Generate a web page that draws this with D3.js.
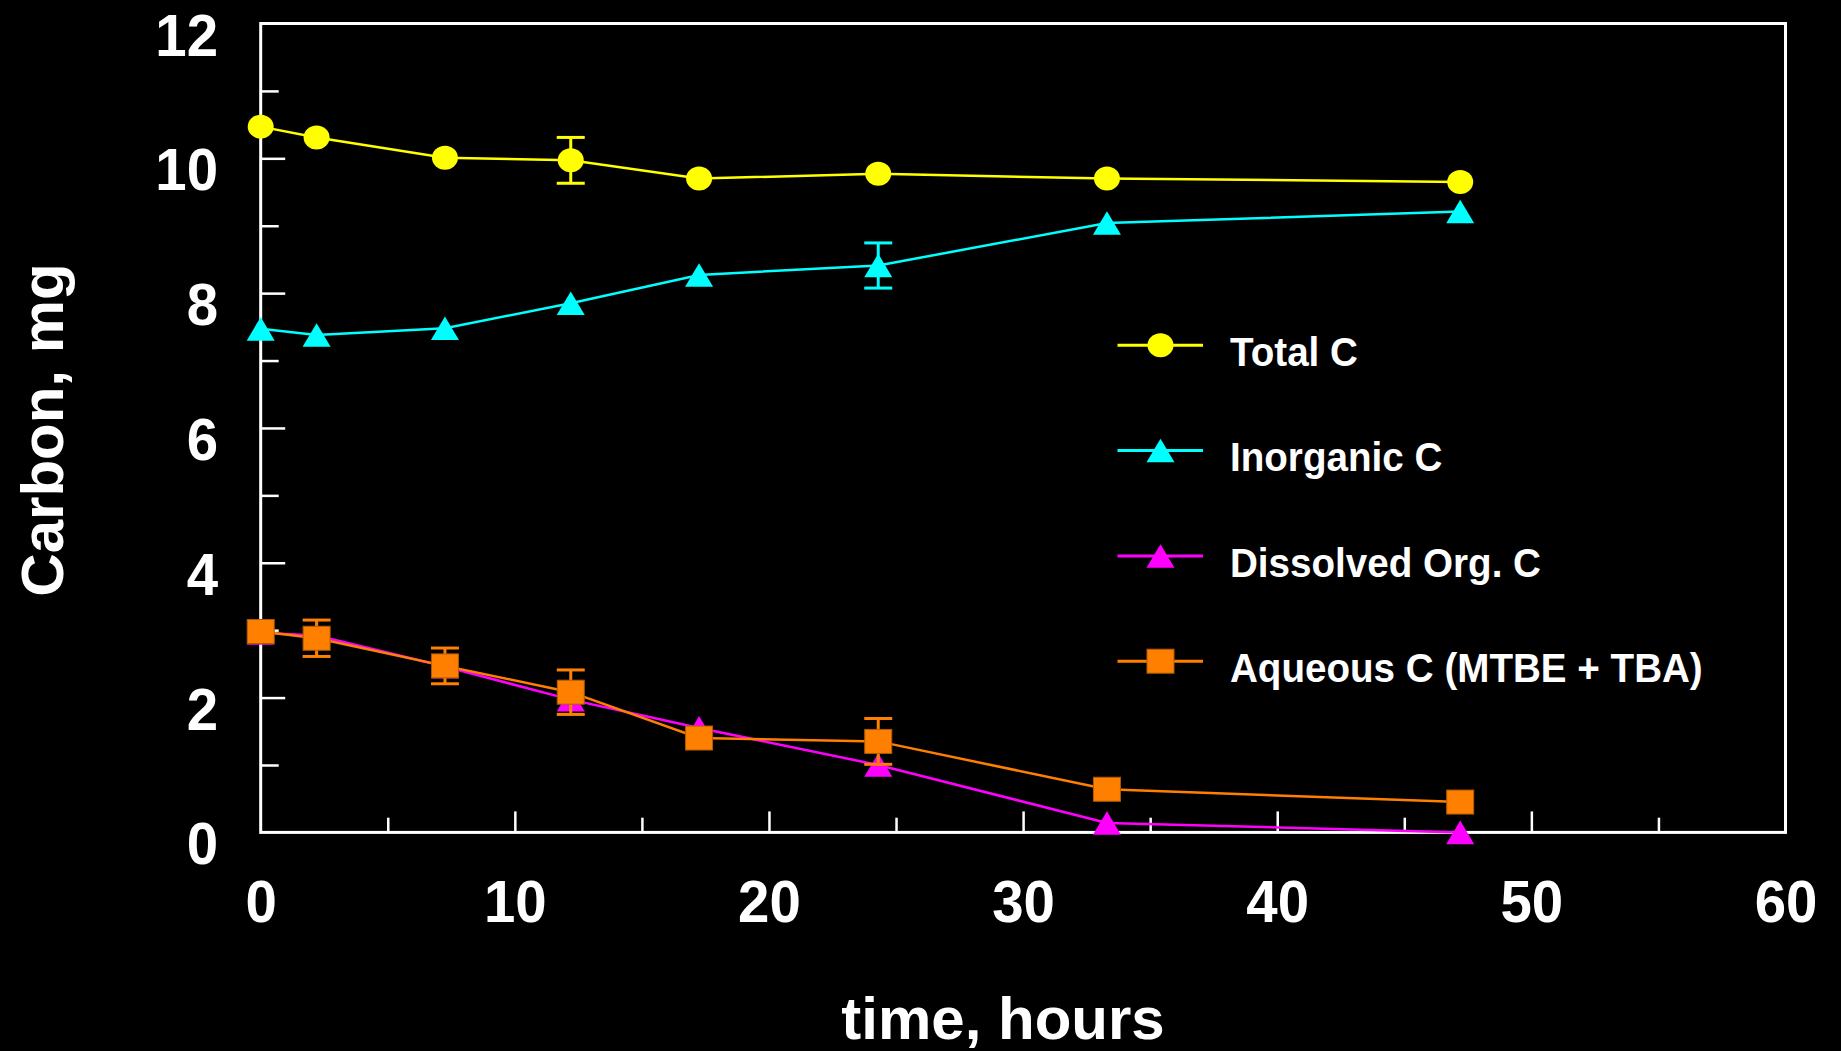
<!DOCTYPE html>
<html>
<head>
<meta charset="utf-8">
<script src="https://cdn.jsdelivr.net/npm/d3@7"></script>
<style>
  body { margin: 0; background: #000; }
  svg { display: block; background: #000; }
</style>
</head>
<body>
<div id="chart"></div>
<script>
// data
const hours = [0, 2.2, 7.25, 12.2, 17.25, 24.3, 33.3, 47.2];
const totalC = [10.47, 10.31, 10.01, 9.97, 9.70, 9.77, 9.70, 9.65];
const inorganicC = [7.47, 7.38, 7.48, 7.85, 8.27, 8.41, 9.04, 9.21];
const dissolvedOrgC = [2.96, 2.92, 2.46, 1.97, 1.55, 1.00, 0.14, 0.00];
const aqueousC = [2.98, 2.88, 2.47, 2.08, 1.40, 1.35, 0.64, 0.45];

// error bars (half width), null = no bar
const totalErr = [null, null, null, 0.34, null, null, null, null];
const inorganicErr = [null, null, null, null, null, 0.335, null, null];
const aqueousErr = [null, 0.27, 0.265, 0.33, null, 0.34, null, null];

const seriesNames = ['Total C', 'Inorganic C', 'Dissolved Org. C', 'Aqueous C (MTBE + TBA)'];
const xMajorTicks = [0, 10, 20, 30, 40, 50, 60];
const xMinorTicks = [5, 15, 25, 35, 45, 55];
const yMajorTicks = [0, 2, 4, 6, 8, 10, 12];
const yMinorTicks = [1, 3, 5, 7, 9, 11];

const svgWidth = 1841;
const svgHeight = 1051;
const margin = { top: 23.5, right: 55.5, bottom: 218.6, left: 260.7 };
const width = svgWidth - margin.left - margin.right;
const height = svgHeight - margin.top - margin.bottom;
const font = "'Liberation Sans', Arial, Helvetica, sans-serif";

const series = [
  { name: seriesNames[0], values: totalC, err: totalErr, color: '#ffff00', shape: 'circle' },
  { name: seriesNames[1], values: inorganicC, err: inorganicErr, color: '#00ffff', shape: 'triangle' },
  { name: seriesNames[2], values: dissolvedOrgC, err: null, color: '#ff00ff', shape: 'triangle' },
  { name: seriesNames[3], values: aqueousC, err: aqueousErr, color: '#ff8000', shape: 'square' }
];

const svg = d3.select('#chart').append('svg')
  .attr('width', svgWidth)
  .attr('height', svgHeight);

const chartGroup = svg.append('g')
  .attr('transform', `translate(${margin.left}, ${margin.top})`);

const x = d3.scaleLinear().domain([0, 60]).range([0, width]);
const y = d3.scaleLinear().domain([0, 12]).range([height, 0]);

// frame
chartGroup.append('rect')
  .attr('width', width)
  .attr('height', height)
  .attr('fill', 'none')
  .attr('stroke', '#fff')
  .attr('stroke-width', 3);

// x axis, inward ticks
const styleAxis = (g) => {
  g.select('.domain').remove();
  g.selectAll('line').attr('stroke', '#fff').attr('stroke-width', 2.5);
};

chartGroup.append('g')
  .attr('transform', `translate(0, ${height})`)
  .call(d3.axisBottom(x).tickValues(xMinorTicks).tickSize(-14.7).tickFormat(''))
  .call(styleAxis);

const xAxis = chartGroup.append('g')
  .attr('transform', `translate(0, ${height})`)
  .call(d3.axisBottom(x).tickValues(xMajorTicks).tickSize(-21).tickFormat(d3.format('d')))
  .call(styleAxis);
xAxis.selectAll('.tick').filter(d => d === 0 || d === 60).select('line').remove();
xAxis.selectAll('text')
  .attr('y', 89.6)
  .attr('dy', 0)
  .attr('transform', 'scale(0.94,1)')
  .style('font-family', font)
  .style('font-weight', 'bold')
  .style('font-size', '60px')
  .style('fill', '#fff');

// y axis, inward ticks
chartGroup.append('g')
  .call(d3.axisLeft(y).tickValues(yMinorTicks).tickSize(-18).tickFormat(''))
  .call(styleAxis);

const yAxis = chartGroup.append('g')
  .call(d3.axisLeft(y).tickValues(yMajorTicks).tickSize(-24.5).tickFormat(d3.format('d')))
  .call(styleAxis);
yAxis.selectAll('.tick').filter(d => d === 0 || d === 12).select('line').remove();
yAxis.selectAll('text')
  .attr('x', -42.7 / 0.94)
  .attr('y', 31.5)
  .attr('dy', 0)
  .attr('text-anchor', 'end')
  .attr('transform', 'scale(0.94,1)')
  .style('font-family', font)
  .style('font-weight', 'bold')
  .style('font-size', '60px')
  .style('fill', '#fff');

// axis titles
svg.append('text')
  .attr('x', 1003)
  .attr('y', 1039)
  .attr('text-anchor', 'middle')
  .style('font-family', font)
  .style('font-weight', 'bold')
  .style('font-size', '60px')
  .style('fill', '#fff')
  .text('time, hours');

svg.append('text')
  .attr('transform', 'translate(63, 430) rotate(-90)')
  .attr('text-anchor', 'middle')
  .style('font-family', font)
  .style('font-weight', 'bold')
  .style('font-size', '60px')
  .style('fill', '#fff')
  .text('Carbon, mg');

// marker helper
const drawMarker = (g, shape, color) => {
  if (shape === 'circle') {
    g.append('ellipse').attr('rx', 13).attr('ry', 12).attr('fill', color);
  } else if (shape === 'triangle') {
    g.append('path').attr('d', 'M0,-11.8L14,11.8L-14,11.8Z').attr('fill', color);
  } else {
    g.append('rect')
      .attr('x', -13.5).attr('y', -12)
      .attr('width', 27).attr('height', 24)
      .attr('fill', color)
      .attr('stroke', '#b35a00')
      .attr('stroke-width', 1);
  }
};

const line = d3.line()
  .x(d => x(d.h))
  .y(d => y(d.v));

series.forEach(s => {
  const pts = hours.map((h, i) => ({ h: h, v: s.values[i], e: s.err ? s.err[i] : null }));
  const sg = chartGroup.append('g');

  sg.append('path')
    .datum(pts)
    .attr('fill', 'none')
    .attr('stroke', s.color)
    .attr('stroke-width', 2.5)
    .attr('d', line);

  // error bars
  pts.filter(p => p.e != null).forEach(p => {
    const eb = sg.append('g').attr('stroke', s.color).attr('stroke-width', 3);
    eb.append('line')
      .attr('x1', x(p.h)).attr('x2', x(p.h))
      .attr('y1', y(p.v + p.e)).attr('y2', y(p.v - p.e));
    [p.v + p.e, p.v - p.e].forEach(v => {
      eb.append('line')
        .attr('x1', x(p.h) - 14).attr('x2', x(p.h) + 14)
        .attr('y1', y(v)).attr('y2', y(v));
    });
  });

  pts.forEach(p => {
    const m = sg.append('g').attr('transform', `translate(${x(p.h)}, ${y(p.v)})`);
    drawMarker(m, s.shape, s.color);
  });
});

// legend
const legendBaselines = [365.7, 471, 576.5, 681.7];
const legend = svg.append('g');
series.forEach((s, i) => {
  const ly = legendBaselines[i] - 20.5;
  legend.append('line')
    .attr('x1', 1117.5).attr('x2', 1203)
    .attr('y1', ly).attr('y2', ly)
    .attr('stroke', s.color)
    .attr('stroke-width', 3);
  const m = legend.append('g').attr('transform', `translate(1160.5, ${ly})`);
  drawMarker(m, s.shape, s.color);
  legend.append('text')
    .attr('transform', `translate(1230, ${legendBaselines[i]}) scale(0.965,1)`)
    .style('font-family', font)
    .style('font-weight', 'bold')
    .style('font-size', '40px')
    .style('fill', '#fff')
    .text(s.name);
});
</script>
</body>
</html>
